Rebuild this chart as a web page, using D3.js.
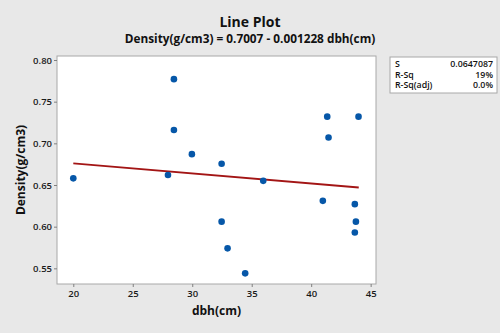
<!DOCTYPE html>
<html>
<head>
<meta charset="utf-8">
<script src="https://cdn.jsdelivr.net/npm/d3@7"></script>
<style>
  body { margin: 0; background: #e8e8e8; }
  svg { display: block; font-family: "Open Sans", "Noto Sans", sans-serif; }
</style>
</head>
<body>
<svg id="chart" width="500" height="333"></svg>
<script>
// observed points (dbh in cm, density in g/cm3)
const dbh = [20.0, 28.46, 28.46, 27.96, 29.97, 32.47, 32.47, 32.97, 34.45, 35.97,
             40.98, 41.35, 41.46, 43.98, 43.67, 43.76, 43.67];
const density = [0.658, 0.777, 0.716, 0.662, 0.687, 0.6755, 0.606, 0.574, 0.544, 0.655,
                 0.631, 0.732, 0.707, 0.732, 0.627, 0.606, 0.593];

// fitted line ends
const fitX = [20, 44];
const fitY = [0.676, 0.647];

const xTicks = [20, 25, 30, 35, 40, 45];
const yTicks = [0.55, 0.60, 0.65, 0.70, 0.75, 0.80];

const statLabels = ["S", "R-Sq", "R-Sq(adj)"];
const statValues = ["0.0647087", "19%", "0.0%"];

const svg = d3.select("#chart");
const width = 500;
const margin = { top: 56, right: 124, bottom: 49, left: 57 };
const plotW = width - margin.left - margin.right;
const plotH = 333 - margin.top - margin.bottom;

// background
svg.append("rect").attr("width", 500).attr("height", 333).attr("fill", "#e8e8e8");

const x = d3.scaleLinear().domain([18.63, 45.45]).range([margin.left, margin.left + plotW]);
const y = d3.scaleLinear().domain([0.5312, 0.8048]).range([margin.top + plotH, margin.top]);

// plot area
svg.append("rect")
  .attr("x", margin.left)
  .attr("y", margin.top)
  .attr("width", plotW)
  .attr("height", plotH)
  .attr("fill", "white")
  .attr("stroke", "#a8a8a8")
  .attr("stroke-width", 1);

// axes
const xAxis = svg.append("g")
  .attr("transform", `translate(0, ${margin.top + plotH})`)
  .call(d3.axisBottom(x).tickValues(xTicks).tickSize(3).tickPadding(3).tickFormat(d3.format("d")));

const yAxis = svg.append("g")
  .attr("transform", `translate(${margin.left}, 0)`)
  .call(d3.axisLeft(y).tickValues(yTicks).tickSize(3).tickPadding(2).tickFormat(d3.format(".2f")));

[xAxis, yAxis].forEach((g) => {
  g.select(".domain").remove();
  g.selectAll(".tick line").attr("stroke", "#808080");
  g.selectAll(".tick text")
    .attr("fill", "#1a1a1a")
    .style("font-size", "9.5px")
    .style("font-weight", "600")
    .style("font-family", "'Open Sans', sans-serif");
});

// fitted line
svg.append("path")
  .datum(fitX.map((d, i) => [d, fitY[i]]))
  .attr("fill", "none")
  .attr("stroke", "#a31515")
  .attr("stroke-width", 1.8)
  .attr("d", d3.line().x((d) => x(d[0])).y((d) => y(d[1])));

// points
svg.selectAll(".pt")
  .data(dbh.map((d, i) => [d, density[i]]))
  .join("circle")
  .attr("class", "pt")
  .attr("cx", (d) => x(d[0]))
  .attr("cy", (d) => y(d[1]))
  .attr("r", 3.3)
  .attr("fill", "#0657a8");

// titles
svg.append("text")
  .attr("x", 250).attr("y", 27)
  .attr("text-anchor", "middle")
  .style("font-size", "14px").style("font-weight", "bold")
  .attr("fill", "#111")
  .text("Line Plot");

svg.append("text")
  .attr("x", 250).attr("y", 43)
  .attr("text-anchor", "middle")
  .style("font-size", "11.8px").style("font-weight", "bold")
  .attr("fill", "#111")
  .text("Density(g/cm3) = 0.7007 - 0.001228 dbh(cm)");

// axis labels
svg.append("text")
  .attr("x", margin.left + plotW / 2).attr("y", 315)
  .attr("text-anchor", "middle")
  .style("font-size", "12px").style("font-weight", "bold")
  .attr("fill", "#111")
  .text("dbh(cm)");

svg.append("text")
  .attr("transform", `translate(25, ${margin.top + plotH / 2}) rotate(-90)`)
  .attr("text-anchor", "middle")
  .style("font-size", "12px").style("font-weight", "bold")
  .attr("fill", "#111")
  .text("Density(g/cm3)");

// stats box
svg.append("rect")
  .attr("x", 390).attr("y", 57)
  .attr("width", 107).attr("height", 36)
  .attr("fill", "white")
  .attr("stroke", "#a8a8a8");

statLabels.forEach((s, i) => {
  svg.append("text")
    .attr("x", 395).attr("y", 67 + i * 10.5)
    .style("font-size", "8.8px").style("font-weight", "600")
    .attr("fill", "#111")
    .text(s);
  svg.append("text")
    .attr("x", 493).attr("y", 67 + i * 10.5)
    .attr("text-anchor", "end")
    .style("font-size", "8.8px").style("font-weight", "600")
    .attr("fill", "#111")
    .text(statValues[i]);
});
</script>
</body>
</html>
